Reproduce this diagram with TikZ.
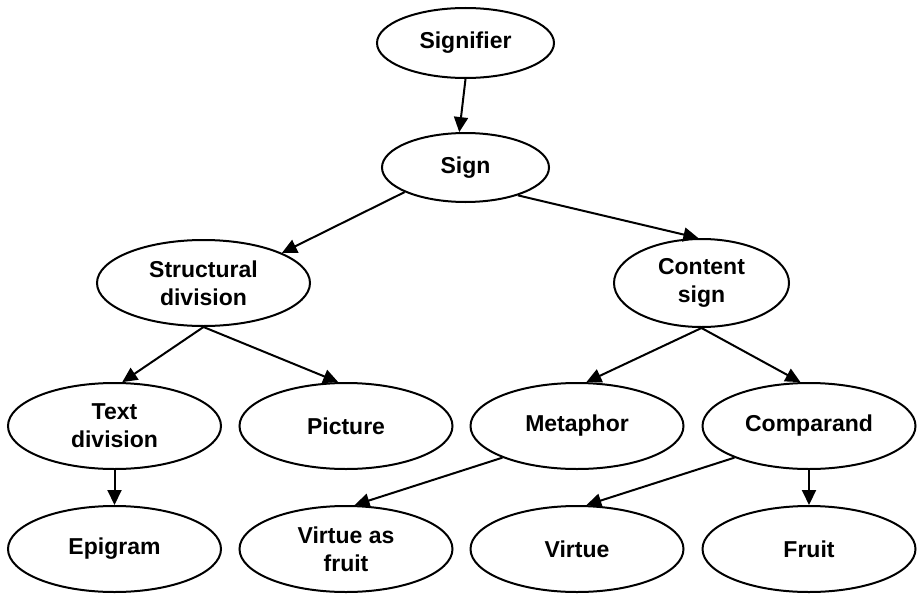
\documentclass[tikz,border=0pt]{standalone}
\usepackage{fontspec}
\setmainfont{Liberation Sans}
\usetikzlibrary{shapes.geometric,arrows.meta}
\tikzset{
  ell/.style={ellipse, draw, line width=2pt, inner sep=0pt, align=center,
    font=\fontsize{23}{28}\selectfont\bfseries},
  big/.style={ell, minimum width=213pt, minimum height=86pt},
  conn/.style={line width=2pt, -{Triangle[length=15pt,width=14pt]}}
}
\begin{document}
\begin{tikzpicture}[x=1pt,y=-1pt]
\useasboundingbox (0,0) rectangle (917,594);
\node[ell, minimum width=177pt, minimum height=70pt] (signifier) at (465.5,43) {Signifier};
\node[ell, minimum width=167pt, minimum height=69pt] (sign) at (465.5,167.5) {Sign};
\node[big] (struct) at (203.5,283) {Structural\\division};
\node[ell, minimum width=175pt, minimum height=88pt] (content) at (701.5,283) {Content\\sign};
\node[big] (textdiv) at (114.5,426) {Text\\division};
\node[big] (picture) at (346,426) {Picture};
\node[big] (metaphor) at (577,426) {Metaphor};
\node[big] (comparand) at (809,426) {Comparand};
\node[big] (epigram) at (114.5,549) {Epigram};
\node[big] (vaf) at (346,549) {Virtue as\\fruit};
\node[big] (virtue) at (577,549) {Virtue};
\node[big] (fruit) at (809,549) {Fruit};

\draw[conn] (signifier.south) -- (sign.100);
\draw[conn] (sign.-158) -- (struct.21.5);
\draw[conn] (sign.-28) -- (content.94.5);
\draw[conn] (struct.south) -- (textdiv.80);
\draw[conn] (struct.south) -- (picture.100);
\draw[conn] (content.south) -- (metaphor.78);
\draw[conn] (content.south) -- (comparand.101);
\draw[conn] (textdiv.south) -- (epigram.north);
\draw[conn] (metaphor.-157.4) -- (vaf.79);
\draw[conn] (comparand.-157.4) -- (virtue.78);
\draw[conn] (comparand.south) -- (fruit.north);
\end{tikzpicture}
\end{document}
